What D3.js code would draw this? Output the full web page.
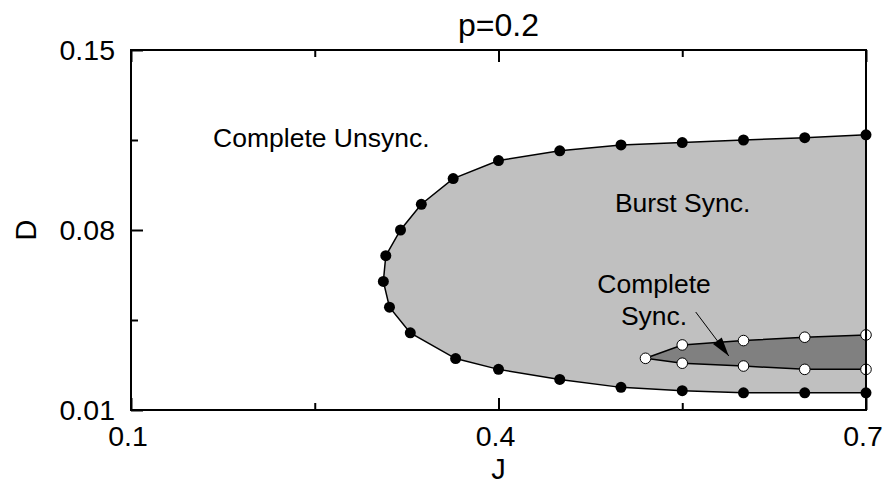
<!DOCTYPE html>
<html>
<head>
<meta charset="utf-8">
<script src="https://cdn.jsdelivr.net/npm/d3@7"></script>
<style>
html,body{margin:0;padding:0;background:#fff;}
svg{display:block;}
text{font-family:"Liberation Sans",Arial,sans-serif;fill:#000;}
</style>
</head>
<body>
<svg id="chart" width="885" height="488"></svg>
<script>
// ---- data ----
const title = "p=0.2";
const xTicksMajor = [0.1, 0.4, 0.7];
const xTicksMinor = [0.25, 0.55];
const yTicksMajor = [0.01, 0.08, 0.15];
const yTicksMinor = [0.045, 0.115];

// Burst sync boundary: upper branch, nose, lower branch
const upperJ = [0.40, 0.45, 0.50, 0.55, 0.60, 0.65, 0.70];
const upperD = [0.107, 0.1108, 0.1131, 0.1140, 0.1150, 0.1159, 0.1170];
const noseJ = [0.363, 0.337, 0.320, 0.308, 0.306, 0.311, 0.328, 0.365];
const noseD = [0.100, 0.090, 0.080, 0.070, 0.060, 0.050, 0.040, 0.030];
const lowerJ = [0.40, 0.45, 0.50, 0.55, 0.60, 0.65, 0.70];
const lowerD = [0.0258, 0.0219, 0.0188, 0.0175, 0.0167, 0.0167, 0.0167];

// Complete sync boundary
const tipJ = [0.520];
const tipD = [0.0301];
const csJ = [0.55, 0.60, 0.65, 0.70];
const csUpperD = [0.0353, 0.0370, 0.0383, 0.0392];
const csLowerD = [0.0282, 0.0271, 0.0258, 0.0258];

// annotations (data coordinates)
const labelsText = ["Complete Unsync.", "Burst Sync.", "Complete", "Sync."];
const labelsJ = [0.167, 0.495, 0.527, 0.527];
const labelsD = [0.1123, 0.087, 0.0555, 0.0431];
const labelsAnchor = ["start", "start", "middle", "middle"];
const arrowJ = [0.561, 0.588];
const arrowD = [0.0481, 0.0310];

// ---- layout ----
const svg = d3.select("#chart");
const m = {left:131, right:866, top:50, bottom:410};
const x = d3.scaleLinear().domain([0.1, 0.7]).range([m.left, m.right]);
const y = d3.scaleLinear().domain([0.01, 0.15]).range([m.bottom, m.top]);

const zip = (a, b) => a.map((v, i) => [v, b[i]]);
const upper = zip(upperJ, upperD);
const nose = zip(noseJ, noseD);
const lower = zip(lowerJ, lowerD);
const outer = upper.slice().reverse().concat(nose, lower);

const csUp = zip(csJ, csUpperD);
const csLo = zip(csJ, csLowerD);
const tip = zip(tipJ, tipD);
const inner = csUp.slice().reverse().concat(tip, csLo);

const line = d3.line().x(d => x(d[0])).y(d => y(d[1]));

// outer region
svg.append("path")
  .attr("d", line(outer) + "Z")
  .attr("fill", "#c0c0c0")
  .attr("stroke", "none");
svg.append("path")
  .attr("d", line(outer))
  .attr("fill", "none")
  .attr("stroke", "#000")
  .attr("stroke-width", 1.5);

// inner region
svg.append("path")
  .attr("d", line(inner) + "Z")
  .attr("fill", "#808080")
  .attr("stroke", "none");
svg.append("path")
  .attr("d", line(inner))
  .attr("fill", "none")
  .attr("stroke", "#000")
  .attr("stroke-width", 1.5);

// arrow
const ax0 = x(arrowJ[0]), ay0 = y(arrowD[0]), ax1 = x(arrowJ[1]), ay1 = y(arrowD[1]);
svg.append("line")
  .attr("x1", ax0).attr("y1", ay0).attr("x2", ax1).attr("y2", ay1)
  .attr("stroke", "#000").attr("stroke-width", 1);
(function(){
  const dx = ax1 - ax0, dy = ay1 - ay0, L = Math.hypot(dx, dy);
  const ux = dx / L, uy = dy / L, px = -uy, py = ux;
  const hl = 19, hw = 5.5;
  const bx = ax1 - ux * hl, by = ay1 - uy * hl;
  svg.append("path")
    .attr("d", `M${ax1},${ay1}L${bx + px*hw},${by + py*hw}L${bx - px*hw},${by - py*hw}Z`)
    .attr("fill", "#000");
})();

// points
svg.append("g").selectAll("circle")
  .data(upper.concat(nose, lower))
  .join("circle")
  .attr("cx", d => x(d[0])).attr("cy", d => y(d[1]))
  .attr("r", 5.5).attr("fill", "#000");
svg.append("g").selectAll("circle")
  .data(csUp.concat(tip, csLo))
  .join("circle")
  .attr("cx", d => x(d[0])).attr("cy", d => y(d[1]))
  .attr("r", 5.3).attr("fill", "#fff").attr("stroke", "#000").attr("stroke-width", 1);

// frame
svg.append("rect")
  .attr("x", m.left).attr("y", m.top)
  .attr("width", m.right - m.left).attr("height", m.bottom - m.top)
  .attr("fill", "none").attr("stroke", "#000").attr("stroke-width", 2);

// axes with inward ticks
const gx = svg.append("g").attr("transform", `translate(0,${m.bottom})`);
gx.call(d3.axisBottom(x).tickValues(xTicksMajor).tickSize(-12).tickFormat(d3.format(".1f")).tickPadding(16));
gx.append("g").call(d3.axisBottom(x).tickValues(xTicksMinor).tickSize(-7).tickFormat(""));
const gxt = svg.append("g").attr("transform", `translate(0,${m.top})`);
gxt.call(d3.axisTop(x).tickValues(xTicksMajor).tickSize(-12).tickFormat(""));
gxt.append("g").call(d3.axisTop(x).tickValues(xTicksMinor).tickSize(-7).tickFormat(""));
const gy = svg.append("g").attr("transform", `translate(${m.left},0)`);
gy.call(d3.axisLeft(y).tickValues(yTicksMajor).tickSize(-12).tickFormat(d3.format(".2f")).tickPadding(16));
gy.append("g").call(d3.axisLeft(y).tickValues(yTicksMinor).tickSize(-7).tickFormat(""));

svg.selectAll(".domain").remove();
svg.selectAll(".tick line").attr("stroke", "#000").attr("stroke-width", 2);
svg.selectAll(".tick text")
  .style("font-family", '"Liberation Sans", Arial, sans-serif')
  .style("font-size", "28.5px").attr("fill", "#000");
gy.selectAll(".tick text").attr("dy", "0.35em");
gx.selectAll(".tick text").attr("dx", -3.5);

// axis titles and title
svg.append("text").attr("x", x(0.4)).attr("y", 479)
  .attr("text-anchor", "middle").style("font-size", "29px").text("J");
svg.append("text")
  .attr("transform", `translate(36,${y(0.08)}) rotate(-90)`)
  .attr("text-anchor", "middle").style("font-size", "29px").text("D");
svg.append("text").attr("x", x(0.4)).attr("y", 36)
  .attr("text-anchor", "middle").style("font-size", "32px").text(title);

// region labels
svg.append("g").selectAll("text")
  .data(labelsText)
  .join("text")
  .attr("x", (d, i) => x(labelsJ[i]))
  .attr("y", (d, i) => y(labelsD[i]))
  .attr("text-anchor", (d, i) => labelsAnchor[i])
  .style("font-size", "26.5px")
  .text(d => d);
</script>
</body>
</html>
